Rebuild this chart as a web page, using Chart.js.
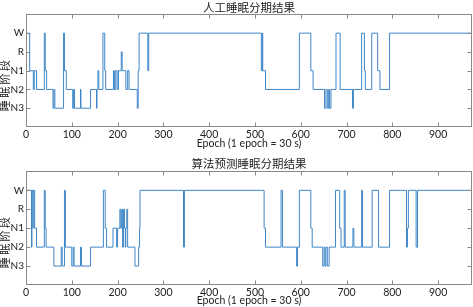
<!DOCTYPE html>
<html>
<head>
<meta charset="utf-8">
<script src="https://cdn.jsdelivr.net/npm/chart.js@4.4.0/dist/chart.umd.min.js"></script>
<style>
  body { margin: 0; background: #fff; }
  #wrap { position: relative; width: 473px; height: 307px; }
  canvas { position: absolute; left: 0; }
</style>
</head>
<body>
<div id="wrap">
  <canvas id="manual" width="473" height="150" style="top:0"></canvas>
  <canvas id="predict" width="473" height="157" style="top:150px"></canvas>
</div>
<script>
// stage names from bottom (0) to top (4)
const stageLabels = ['N3', 'N2', 'N1', 'R', 'W'];
const epochTicks = [0, 100, 200, 300, 400, 500, 600, 700, 800, 900];
const lastEpoch = 974;

// manual scoring: epoch where a stage starts + the stage
const manualEpochs = [0, 8, 16, 18, 23, 40, 42, 45, 59, 61, 63, 82, 84, 88, 102, 104, 106, 119, 120, 141,
  154, 155, 157, 159, 168, 172, 174, 191, 193, 196, 199, 202, 208, 210, 218, 222, 225, 243, 245, 247,
  266, 268, 514, 516, 517, 523, 597, 622, 627, 652, 655, 658, 661, 663, 666, 677, 686, 713, 715, 733,
  739, 741, 755, 768, 773, 794, 974];
const manualStages = ['W', 'N1', 'N2', 'N1', 'N2', 'W', 'N1', 'N2', 'N3', 'N2', 'N3', 'W', 'N1', 'N2', 'N3', 'N2', 'N3', 'N2', 'N3', 'N2',
  'N3', 'N2', 'N1', 'N2', 'W', 'N1', 'N2', 'N1', 'N2', 'N1', 'N2', 'N1', 'R', 'N1', 'N2', 'N1', 'N2', 'N3', 'N1', 'W',
  'N1', 'W', 'N1', 'W', 'N1', 'N2', 'W', 'N1', 'N2', 'N3', 'N2', 'N3', 'N2', 'N3', 'N2', 'W', 'N2', 'N3', 'N2', 'W',
  'N1', 'N2', 'W', 'N1', 'N2', 'W', 'W'];

// algorithm prediction
const predEpochs = [0, 12, 13, 15, 16, 19, 23, 40, 42, 44, 61, 77, 79, 84, 86, 100, 103, 105, 119, 121,
  141, 169, 173, 176, 190, 198, 200, 205, 207, 209, 211, 213, 215, 217, 218, 220, 222, 238, 246, 248,
  249, 344, 346, 520, 523, 557, 560, 591, 593, 597, 622, 625, 648, 651, 653, 655, 658, 662, 676, 685,
  688, 695, 697, 714, 716, 733, 735, 756, 770, 794, 831, 833, 835, 852, 855, 973, 974];
const predStages = ['W', 'N2', 'W', 'N1', 'W', 'N1', 'N2', 'W', 'N1', 'N2', 'N3', 'N2', 'N3', 'W', 'N2', 'N3', 'N2', 'N3', 'N2', 'N3',
  'N2', 'W', 'N1', 'N2', 'N1', 'N2', 'N1', 'R', 'N1', 'R', 'N2', 'R', 'N1', 'N2', 'N1', 'R', 'N2', 'N3', 'N2', 'N1',
  'W', 'N2', 'W', 'N1', 'N2', 'W', 'N2', 'N3', 'N2', 'W', 'N1', 'N2', 'N3', 'N2', 'N3', 'N2', 'N3', 'N2', 'W', 'N1',
  'N2', 'W', 'N2', 'N1', 'N2', 'W', 'N2', 'W', 'N2', 'W', 'N2', 'N1', 'W', 'N2', 'W', 'N1', 'N1'];

const lineColor = '#3f86c8';
const frameColor = '#8a8a8a';
const textColor = '#222';
const tickFont = { family: 'Lato, "Open Sans", sans-serif', size: 10 };
const cjkFont = '"Noto Sans CJK SC", sans-serif';

// draws the box round the plot and the small inward ticks (like matlab)
const frameTicks = {
  id: 'frameTicks',
  afterDraw(chart) {
    const { ctx, chartArea: a } = chart;
    const x = chart.scales.x;
    const y = chart.scales.y;
    const L = Math.round(a.left) + 0.5, R = Math.round(a.right) - 0.5;
    const T = Math.round(a.top) + 0.5, B = Math.round(a.bottom) - 0.5;
    ctx.save();
    ctx.strokeStyle = frameColor;
    ctx.lineWidth = 1;
    ctx.strokeRect(L, T, R - L, B - T);
    ctx.beginPath();
    x.ticks.forEach(t => {
      const px = Math.round(x.getPixelForValue(t.value)) + 0.5;
      ctx.moveTo(px, B); ctx.lineTo(px, B - 4);
      ctx.moveTo(px, T); ctx.lineTo(px, T + 4);
    });
    y.ticks.forEach(t => {
      const py = Math.round(y.getPixelForValue(t.value)) + 0.5;
      ctx.moveTo(L, py); ctx.lineTo(L + 4, py);
      ctx.moveTo(R, py); ctx.lineTo(R - 4, py);
    });
    ctx.stroke();

    // y axis title, sits a bit below the middle in the reference
    ctx.translate(4.5, a.top + 70);
    ctx.rotate(-Math.PI / 2);
    ctx.fillStyle = textColor;
    ctx.font = '11px ' + cjkFont;
    ctx.letterSpacing = '2.5px';
    ctx.textAlign = 'center';
    ctx.textBaseline = 'middle';
    ctx.fillText('睡眠阶段', 0, 0);
    ctx.restore();
  }
};

const makeChart = (id, title, epochs, stages, titlePad, xHeight) => {
  const points = epochs.map((e, i) => ({ x: e, y: stageLabels.indexOf(stages[i]) }));
  return new Chart(document.getElementById(id), {
    type: 'line',
    data: {
      datasets: [{
        data: points,
        stepped: true,
        borderColor: lineColor,
        borderWidth: 1,
        pointRadius: 0,
        fill: false
      }]
    },
    options: {
      responsive: false,
      animation: false,
      layout: { padding: { left: 0, right: 1, top: 0, bottom: 0 } },
      plugins: {
        legend: { display: false },
        tooltip: { enabled: false },
        title: {
          display: true,
          text: title,
          fullSize: false,
          color: textColor,
          font: { family: cjkFont, size: 11.5, weight: 'normal', lineHeight: 1.25 },
          padding: titlePad
        }
      },
      scales: {
        x: {
          type: 'linear',
          min: 0,
          max: lastEpoch,
          grid: { display: false, drawTicks: false },
          border: { display: false },
          afterBuildTicks: scale => { scale.ticks = epochTicks.map(v => ({ value: v })); },
          afterFit: scale => { scale.height = xHeight; },
          ticks: { color: textColor, font: { ...tickFont, size: 10.5 }, padding: 1, maxRotation: 0 },
          title: {
            display: true,
            text: 'Epoch (1 epoch = 30 s)',
            color: textColor,
            font: { ...tickFont, size: 10.5 },
            padding: { top: 0, bottom: 0 }
          }
        },
        y: {
          type: 'linear',
          min: -1,
          max: 5,
          grid: { display: false, drawTicks: false },
          border: { display: false },
          afterBuildTicks: scale => { scale.ticks = stageLabels.map((s, i) => ({ value: i })); },
          afterFit: scale => { scale.width = 26; },
          ticks: {
            color: textColor,
            font: tickFont,
            padding: 2,
            callback: v => stageLabels[v]
          }
        }
      }
    },
    plugins: [frameTicks]
  });
};

makeChart('manual', '人工睡眠分期结果', manualEpochs, manualStages, { top: 0, bottom: 0 }, 23);
makeChart('predict', '算法预测睡眠分期结果', predEpochs, predStages, { top: 6, bottom: 1 }, 22);
</script>
</body>
</html>
